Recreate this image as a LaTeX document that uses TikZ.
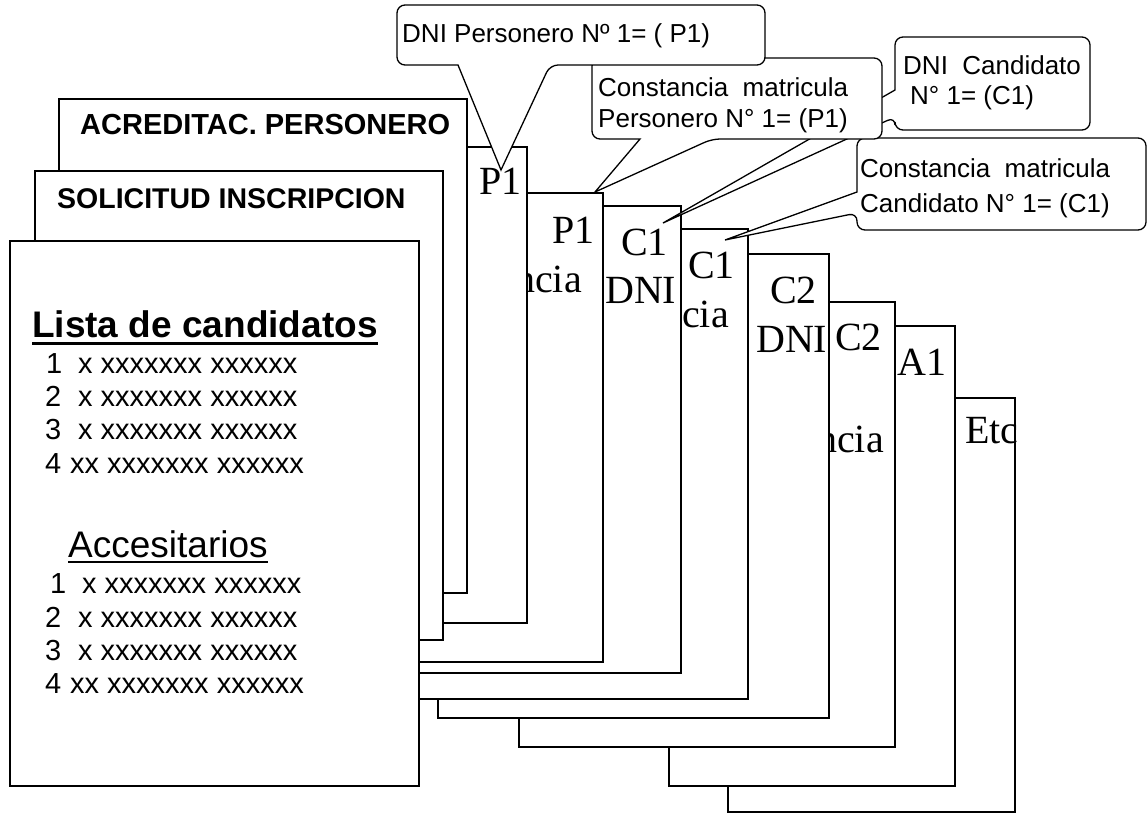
\documentclass[tikz,border=0pt]{standalone}
\usepackage{fontspec}
\setmainfont{Liberation Serif}
\newfontfamily\arial{Liberation Sans}
\begin{document}
\begin{tikzpicture}[x=1pt,y=-1pt,
  pagebox/.style={draw=black, fill=white, line width=1.4pt},
  bubble/.style={draw=black, fill=white, line width=1.3pt, line join=miter},
  serif/.style={inner sep=0pt, anchor=base west, font=\fontsize{40}{40}\selectfont},
  serifE/.style={serif, anchor=base east},
  lbl/.style={inner sep=0pt, anchor=base west, font=\arial\fontsize{26}{30}\selectfont},
  head/.style={inner sep=0pt, anchor=base west, font=\arial\bfseries\fontsize{#1}{32}\selectfont},
  item/.style={inner sep=0pt, anchor=base west, font=\arial\fontsize{29}{32}\selectfont},
  ul/.style={line width=#1},
]
\useasboundingbox (0,0) rectangle (1148,813);

% ---- pages, back to front ----
\draw[pagebox] (728,398) rectangle (1015,812);
\node[serif] (etc) at (965,443) {Etc};
\draw[pagebox] (669,326) rectangle (955,786);
\node[serif] (a1) at (897,375) {A1};
\draw[pagebox] (519,302) rectangle (895,747);
\node[serif] (c2b) at (835,350) {C2};
\node[serifE] (cons3) at (884,452) {ncia};
\draw[pagebox] (438,254) rectangle (829,718);
\node[serif] (c2a) at (770,303) {C2};
\node[serif] (dni2) at (756,352) {DNI};
\draw[pagebox] (360,229) rectangle (748,699);
\node[serif] (c1b) at (688,278) {C1};
\node[serifE] (cons2) at (729,327) {cia};
\draw[pagebox] (330,206) rectangle (681,673);
\node[serif] (c1a) at (621,255) {C1};
\node[serif] (dni1) at (605,303) {DNI};
\draw[pagebox] (300,193) rectangle (603,662);
\node[serif] (p1b) at (552,243) {P1};
\node[serifE] (cons1) at (582,292) {ncia};
\draw[pagebox] (400,147) rectangle (527,623);
\node[serif] (p1a) at (479,195) {P1};
\draw[pagebox] (59,99) rectangle (467,593);
\node[head=29] (acred) at (80,135) {ACREDITAC. PERSONERO};
\draw[pagebox] (35,171) rectangle (443,640);
\node[head=28.5] (solic) at (57,208) {SOLICITUD INSCRIPCION};
\draw[pagebox] (10,241) rectangle (419,786);

% ---- front page content ----
\node[inner sep=0pt, anchor=base west, font=\arial\bfseries\fontsize{37}{42}\selectfont] (lista) at (32,337) {Lista de candidatos};
\draw[ul=3pt] ([yshift=-6pt]lista.base west) -- ([yshift=-6pt]lista.base east);
\node[item] (l1) at (45,373) {\makebox[33pt][l]{\hspace{1pt}1}x xxxxxxx xxxxxx};
\node[item] (l2) at (45,406) {\makebox[33pt][l]{2}x xxxxxxx xxxxxx};
\node[item] (l3) at (45,439) {\makebox[33pt][l]{3}x xxxxxxx xxxxxx};
\node[item] (l4) at (45,473) {\makebox[25pt][l]{4}xx xxxxxxx xxxxxx};

\node[inner sep=0pt, anchor=base west, font=\arial\fontsize{37}{42}\selectfont] (acc) at (68,557) {Accesitarios};
\draw[ul=2.5pt] ([yshift=-5pt]acc.base west) -- ([yshift=-5pt]acc.base east);
\node[item] (a1l) at (45,593) {\makebox[37pt][l]{\hspace{5pt}1}x xxxxxxx xxxxxx};
\node[item] (a2l) at (45,627) {\makebox[33pt][l]{2}x xxxxxxx xxxxxx};
\node[item] (a3l) at (45,660) {\makebox[33pt][l]{3}x xxxxxxx xxxxxx};
\node[item] (a4l) at (45,693) {\makebox[25pt][l]{4}xx xxxxxxx xxxxxx};

% ---- callout tips ----
\coordinate (tip1) at (501,170);
\coordinate (tip2) at (595,192);
\coordinate (tip3) at (663,223);
\coordinate (tip4) at (725,240);

% callout 3: DNI Candidato
\draw[bubble] (950,37) [rounded corners=8pt] -- (1090,37) -- (1090,130) -- (895,130) -- (895,117) [sharp corners] -- (tip3) -- (895,90) [rounded corners=8pt] -- (895,37) -- cycle;
\node[lbl] (t3a) at (903,75) {DNI~~Candidato};
\node[lbl] (t3b) at (910,105) {N° 1= (C1)};

% callout 4: Constancia matricula Candidato
\draw[bubble] (950,138) [rounded corners=8pt] -- (1146,138) -- (1146,230) -- (857,230) -- (857,213) [sharp corners] -- (tip4) -- (857,192) [rounded corners=8pt] -- (857,138) -- cycle;
\node[lbl] (t4a) at (860,178) {Constancia~~matricula};
\node[lbl] (t4b) at (860,212) {Candidato N° 1= (C1)};

% callout 2: Constancia matricula Personero
\draw[bubble] (592,100) [rounded corners=8pt] -- (592,58) -- (882,58) -- (882,139) -- (712,139) [sharp corners] -- (tip2) -- (640,139) [rounded corners=8pt] -- (592,139) -- cycle;
\node[lbl] (t2a) at (598,97) {Constancia~~matricula};
\node[lbl] (t2b) at (598,128) {Personero N° 1= (P1)};

% callout 1: DNI Personero
\draw[bubble] (397,35) [rounded corners=8pt] -- (397,5) -- (765,5) -- (765,65) -- (550,65) [sharp corners] -- (tip1) -- (458,65) [rounded corners=8pt] -- (397,65) -- cycle;
\node[lbl] (t1) at (402,43) {DNI Personero Nº 1= ( P1)};
\end{tikzpicture}
\end{document}
